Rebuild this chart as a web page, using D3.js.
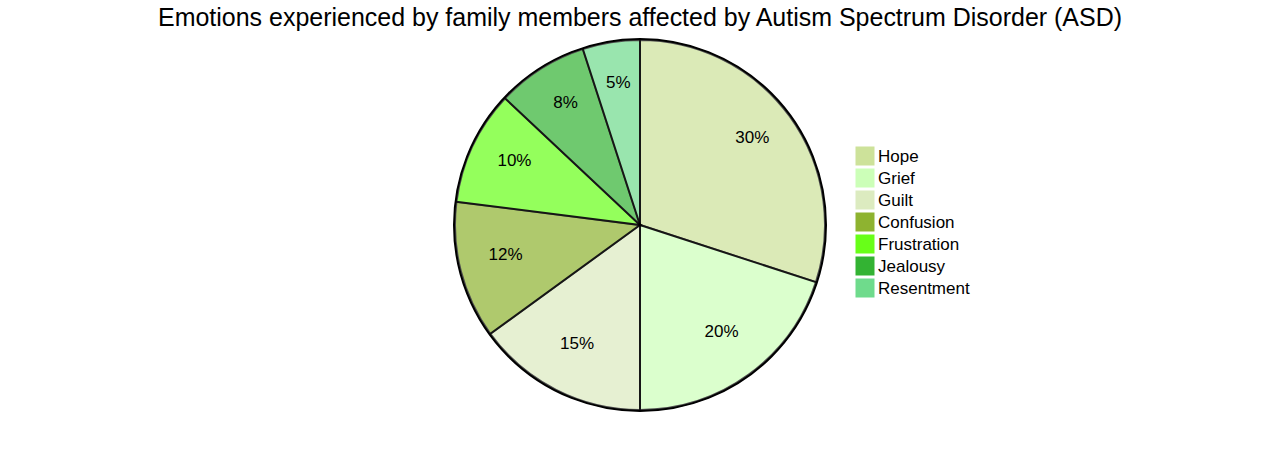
<!DOCTYPE html>
<html><head><meta charset="utf-8">
<script src="https://cdn.jsdelivr.net/npm/d3@7"></script>
<style>body{margin:0;background:#fff;} svg{display:block;font-family:"Liberation Sans",Arial,sans-serif;}</style>
</head><body>
<svg id="c" width="1280" height="450"></svg>
<script>
const categories = ["Hope","Grief","Guilt","Confusion","Frustration","Jealousy","Resentment"];
const values = [30,20,15,12,10,8,5];
const colors = ["#cde29a","#ccffb8","#dcebc0","#8eb330","#68ff18","#33b333","#6fdb8c"];
const title = "Emotions experienced by family members affected by Autism Spectrum Disorder (ASD)";

const svg = d3.select("#c");
const cx = 640, cy = 225, R = 185;
const data = categories.map((c,i)=>({label:c,value:values[i],color:colors[i]}));
const pie = d3.pie().value(d=>d.value).sort(null);
const arcs = pie(data);
const arc = d3.arc().innerRadius(0).outerRadius(R);
const labelArc = d3.arc().innerRadius(R*0.75).outerRadius(R*0.75);
const total = d3.sum(values);

const g = svg.append("g").attr("transform",`translate(${cx},${cy})`);
g.append("circle").attr("r",R+1).attr("fill","none").attr("stroke","#000").attr("stroke-width",2);
g.selectAll("path.s").data(arcs).enter().append("path")
  .attr("d",arc).attr("fill",d=>d.data.color).attr("opacity",0.7)
  .attr("stroke","#000").attr("stroke-width",2);
g.selectAll("text.l").data(arcs).enter().append("text")
  .attr("transform",d=>{const c=labelArc.centroid(d);return `translate(${c[0]},${c[1]-5.5})`;})
  .attr("text-anchor","middle").attr("dominant-baseline","central")
  .attr("font-size",17).attr("fill","#000")
  .text(d=>Math.round(d.data.value/total*100)+"%");

svg.append("text").attr("x",640).attr("y",17).attr("text-anchor","middle")
  .attr("dominant-baseline","central").attr("font-size",25).attr("fill","#000")
  .attr("textLength",964).attr("lengthAdjust","spacingAndGlyphs")
  .text(title);

const lg = svg.append("g").attr("transform","translate(856,147)");
const item = lg.selectAll("g").data(data).enter().append("g")
  .attr("transform",(d,i)=>`translate(0,${i*22})`);
item.append("rect").attr("width",18).attr("height",18).attr("fill",d=>d.color).attr("stroke",d=>d.color);
item.append("text").attr("x",22).attr("y",9).attr("dominant-baseline","central")
  .attr("font-size",17).attr("fill","#000").text(d=>d.label);
</script>
</body></html>
